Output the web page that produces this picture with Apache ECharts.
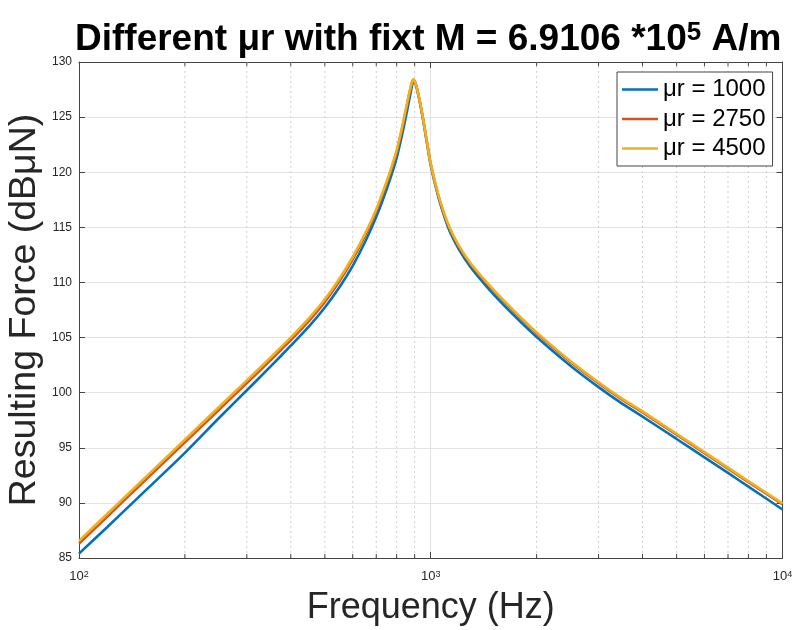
<!DOCTYPE html>
<html>
<head>
<meta charset="utf-8">
<script src="https://cdn.jsdelivr.net/npm/echarts@6/dist/echarts.min.js"></script>
<style>
html,body{margin:0;padding:0;background:#fff;}
#chart{width:795px;height:630px;}
</style>
</head>
<body>
<div id="chart"></div>
<script>
// ---- data ----
var freqs  = [100,120,150,200,250,300,350,400,450,500,550,600,650,700,750,775,800,825,850,870,880,885,890,895,900,910,930,950,975,1000,1050,1100,1135,1200,1300,1450,1600,1800,2000,2500,3000,3500,4000,5000,6000,7000,8000,10000];
var mu1000 = [85.4,87.77,90.73,94.54,97.7,100.22,102.36,104.26,105.99,107.73,109.56,111.51,113.65,115.95,118.5,119.85,121.3,123.1,125.05,126.7,127.5,127.9,128.18,128.3,128.25,127.8,126.45,124.85,122.7,120.62,117.8,115.7,114.55,113.05,111.35,109.53,108.05,106.42,105.05,102.42,100.5,99.0,97.83,95.8,94.13,92.72,91.48,89.4];
var mu2750 = [86.3,88.72,91.68,95.49,98.45,100.87,102.93,104.76,106.49,108.23,110.1,112.1,114.2,116.45,119.0,120.38,121.82,123.65,125.63,127.2,127.87,128.15,128.33,128.36,128.23,127.79,126.47,124.9,122.76,120.73,117.93,115.9,114.8,113.3,111.63,109.84,108.39,106.75,105.38,102.76,100.86,99.37,98.21,96.18,94.52,93.11,91.89,89.86];
var mu4500 = [86.55,88.97,91.93,95.74,98.7,101.12,103.18,105.01,106.74,108.48,110.34,112.31,114.4,116.65,119.2,120.55,122.0,123.8,125.75,127.3,127.95,128.22,128.4,128.42,128.28,127.84,126.52,124.95,122.81,120.78,118.0,115.98,114.89,113.39,111.72,109.93,108.48,106.84,105.47,102.85,100.95,99.46,98.3,96.27,94.61,93.2,91.98,89.95];
var seriesNames = ['\u03bcr = 1000','\u03bcr = 2750','\u03bcr = 4500'];
var minorFreqs = [200,300,400,500,600,700,800,900,2000,3000,4000,5000,6000,7000,8000,9000];
var yTicks = {min:85, max:130, step:5};
var xRange = {min:100, max:10000};
var yAxisTitle = 'Resulting Force (dB\u03bcN)';

var FONT = 'Liberation Sans, Arial, Helvetica, sans-serif';
var colors = ['#0072BD','#D95319','#EDB120'];

function zip(xs, ys){ return xs.map(function(x,i){ return [x, ys[i]]; }); }

var chart = echarts.init(document.getElementById('chart'), null, {renderer:'canvas'});

function lineSeries(name, vals, color){
  return {
    name: name, type:'line', xAxisIndex:0, yAxisIndex:0,
    data: zip(freqs, vals), symbol:'none', showSymbol:false, smooth:0.3,
    lineStyle:{color:color, width:2.6}, itemStyle:{color:color},
    z: 5, animation:false
  };
}

var option = {
  animation:false,
  backgroundColor:'#fff',
  title:{
    text:'{a|Different \u03bcr with fixt M = 6.9106 *10}{s|5}{a| A/m}',
    left:70, top:15,
    textStyle:{
      rich:{
        a:{fontFamily:FONT, fontWeight:'bold', fontSize:37, color:'#000', lineHeight:40},
        s:{fontFamily:FONT, fontWeight:'bold', fontSize:26, color:'#000', verticalAlign:'top', lineHeight:16}
      }
    }
  },
  graphic:[{
    type:'text', x:25, y:310, rotation:Math.PI/2, silent:true,
    style:{text:yAxisTitle, fontFamily:FONT, fontSize:37.5, fill:'#262626',
           align:'center', verticalAlign:'middle', textAlign:'center', textVerticalAlign:'middle'}
  }],
  legend:{
    data:seriesNames.map(function(n){ return {name:n, icon:'rect'}; }),
    orient:'vertical', left:617, top:72,
    itemWidth:36, itemHeight:2.6, itemGap:1.5,
    padding:[3.5,7,3.5,5],
    backgroundColor:'#fff', borderColor:'#444', borderWidth:1,
    textStyle:{fontFamily:FONT, fontSize:24, color:'#000', lineHeight:28}
  },
  grid:{left:79, right:12.5, top:62, bottom:72, containLabel:false, outerBoundsMode:'none'},
  xAxis:[{
    type:'log', logBase:10, min:xRange.min, max:xRange.max, position:'bottom',
    name:'Frequency (Hz)', nameLocation:'middle', nameGap:32,
    nameTextStyle:{fontFamily:FONT, fontSize:36, color:'#262626'},
    axisLine:{show:true, lineStyle:{color:'#444', width:1}},
    axisTick:{show:true, inside:true, length:6, lineStyle:{color:'#444'}},
    splitLine:{show:true, lineStyle:{color:'#e3e3e3', width:1}},
    axisLabel:{
      margin:12, showMinLabel:true, showMaxLabel:true,
      formatter:function(v){ var e = Math.round(Math.log10(v)); return '{b|10}{s|'+e+'}'; },
      rich:{
        b:{fontFamily:FONT, fontSize:13, color:'#262626'},
        s:{fontFamily:FONT, fontSize:9, color:'#262626', verticalAlign:'top', lineHeight:8}
      }
    }
  },{
    type:'log', logBase:10, min:xRange.min, max:xRange.max, position:'top',
    axisLine:{show:true, lineStyle:{color:'#444', width:1}},
    axisTick:{show:true, inside:true, length:6, lineStyle:{color:'#444'}},
    axisLabel:{show:false}, splitLine:{show:false}
  }],
  yAxis:[{
    type:'value', min:yTicks.min, max:yTicks.max, interval:yTicks.step, position:'left',
    axisLine:{show:true, lineStyle:{color:'#444', width:1}},
    axisTick:{show:true, inside:true, length:6, lineStyle:{color:'#444'}},
    splitLine:{show:true, lineStyle:{color:'#e3e3e3', width:1}},
    axisLabel:{margin:7, fontFamily:FONT, fontSize:12, color:'#262626'}
  },{
    type:'value', min:yTicks.min, max:yTicks.max, interval:yTicks.step, position:'right',
    axisLine:{show:true, lineStyle:{color:'#444', width:1}},
    axisTick:{show:true, inside:true, length:6, lineStyle:{color:'#444'}},
    axisLabel:{show:false}, splitLine:{show:false}
  }],
  series:[
    {
      type:'custom', name:'minor', xAxisIndex:0, yAxisIndex:0, silent:true, z:1,
      data: minorFreqs.map(function(f){ return [f]; }),
      encode:{x:0},
      renderItem:function(params, api){
        var f = api.value(0);
        var b = api.coord([f, yTicks.min]);
        var t = api.coord([f, yTicks.max]);
        return {type:'group', children:[
          {type:'line', shape:{x1:b[0], y1:b[1], x2:t[0], y2:t[1]},
           style:{stroke:'#cfcfcf', lineWidth:1, lineDash:[2,3]}},
          {type:'line', shape:{x1:b[0], y1:b[1], x2:b[0], y2:b[1]-4},
           style:{stroke:'#444', lineWidth:1}},
          {type:'line', shape:{x1:t[0], y1:t[1], x2:t[0], y2:t[1]+4},
           style:{stroke:'#444', lineWidth:1}}
        ]};
      }
    },
    lineSeries(seriesNames[0], mu1000, colors[0]),
    lineSeries(seriesNames[1], mu2750, colors[1]),
    lineSeries(seriesNames[2], mu4500, colors[2])
  ]
};
chart.setOption(option);
</script>
</body>
</html>
